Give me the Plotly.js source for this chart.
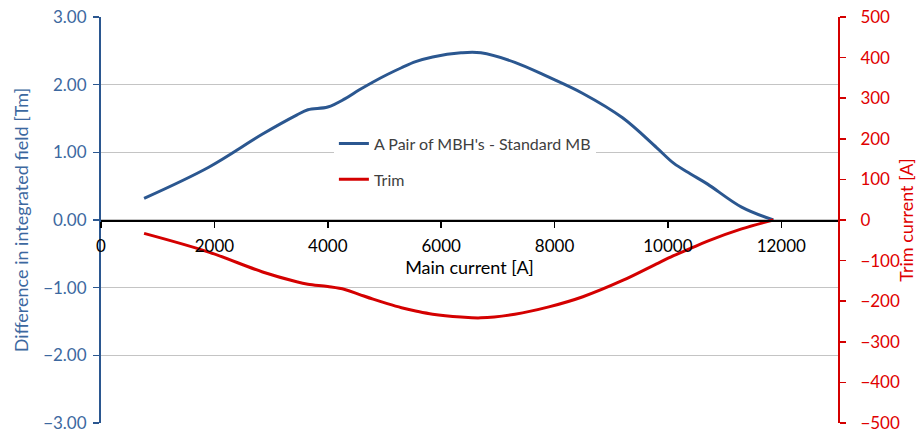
<!DOCTYPE html>
<html>
<head>
<meta charset="utf-8">
<script src="https://cdn.plot.ly/plotly-3.0.1.min.js"></script>
<style>html,body{margin:0;padding:0;background:#fff;}#chart{width:917px;height:433px;}</style>
</head>
<body>
<div id="chart"></div>
<script>
// Main current [A]
const mainCurrent = [760, 1900, 2850, 3450, 3650, 4000, 4300, 4550, 4800, 5050, 5300, 5550, 5850, 6350, 6700, 7300, 7900, 8500, 9200, 9800, 10100, 10400, 10700, 11300, 11860];
// Difference in integrated field [Tm]
const fieldDiff = [0.32, 0.78, 1.27, 1.55, 1.63, 1.67, 1.79, 1.92, 2.04, 2.15, 2.25, 2.34, 2.41, 2.47, 2.47, 2.33, 2.11, 1.87, 1.51, 1.07, 0.84, 0.68, 0.53, 0.19, 0.00];
// Trim current [A]
const trimCurrent = [-33, -79, -128, -152, -158, -164, -171, -183, -195, -206, -216, -224, -232, -239, -241, -232, -214, -189, -149, -108, -88, -70, -52, -22, 0];

const seriesNames = ["A Pair of MBH's - Standard MB", "Trim"];
const leftTicks = [-3, -2, -1, 0, 1, 2, 3];
const rightTicks = [-500, -400, -300, -200, -100, 0, 100, 200, 300, 400, 500];
const xTicks = [0, 2000, 4000, 6000, 8000, 10000, 12000];

const FONT = "Lato, 'Open Sans', sans-serif";
const BLUE = "#2B5790";
const BLUE_TXT = "#3C68A0";
const RED = "#D40000";
const RED_TXT = "#E00000";

const traces = [
  {
    x: mainCurrent, y: fieldDiff, name: seriesNames[0], type: "scatter", mode: "lines",
    line: {color: BLUE, width: 3, shape: "spline", smoothing: 1},
    yaxis: "y", legendgroup: "a"
  },
  {
    x: mainCurrent, y: trimCurrent, name: seriesNames[1], type: "scatter", mode: "lines",
    line: {color: RED, width: 3, shape: "spline", smoothing: 1},
    yaxis: "y2", legendgroup: "b"
  }
];

const layout = {
  width: 917, height: 433,
  margin: {l: 101, r: 79, t: 17, b: 10},
  paper_bgcolor: "#fff", plot_bgcolor: "#fff",
  font: {family: FONT, size: 16, color: "#404040"},
  showlegend: true,
  legend: {
    x: 0.316, y: 0.73, xanchor: "left", yanchor: "top",
    bgcolor: "#ffffff", borderwidth: 0,
    font: {family: FONT, size: 16, color: "#404040"},
    traceorder: "grouped", tracegroupgap: 12
  },
  xaxis: {
    range: [0, 13000], tickvals: xTicks, ticktext: xTicks.map(String),
    anchor: "free", position: 0.5,
    showline: true, linecolor: "#000", linewidth: 1.5,
    ticks: "outside", ticklen: 6, tickcolor: "#000", tickwidth: 1.5,
    ticklabelstandoff: 4,
    showgrid: false, zeroline: false,
    tickfont: {family: FONT, size: 17, color: "#000"},
    title: {text: "Main current [A]", font: {family: FONT, size: 18, color: "#000"}, standoff: 6}
  },
  yaxis: {
    range: [-3, 3], tickvals: leftTicks, tickformat: ".2f",
    showline: true, linecolor: BLUE, linewidth: 2,
    ticks: "outside", ticklen: 6, tickcolor: BLUE, tickwidth: 1.5,
    ticklabelstandoff: 3, ticklabeloverflow: "allow",
    showgrid: true, gridcolor: "#C4C4C4", gridwidth: 1.3,
    zeroline: false,
    tickfont: {family: FONT, size: 17, color: BLUE_TXT},
    title: {text: "Difference in integrated field [Tm]", font: {family: FONT, size: 18, color: BLUE_TXT}, standoff: 10}
  },
  yaxis2: {
    range: [-500, 500], tickvals: rightTicks,
    overlaying: "y", side: "right", anchor: "x",
    showline: true, linecolor: RED, linewidth: 2,
    ticks: "outside", ticklen: 6, tickcolor: RED, tickwidth: 1.5,
    ticklabelstandoff: 11, ticklabeloverflow: "allow",
    showgrid: false, zeroline: false,
    tickfont: {family: FONT, size: 17, color: RED_TXT},
    title: {text: "Trim current [A]", font: {family: FONT, size: 18, color: RED_TXT}, standoff: 4}
  }
};

Plotly.newPlot("chart", traces, layout, {displayModeBar: false, staticPlot: true});
</script>
</body>
</html>
